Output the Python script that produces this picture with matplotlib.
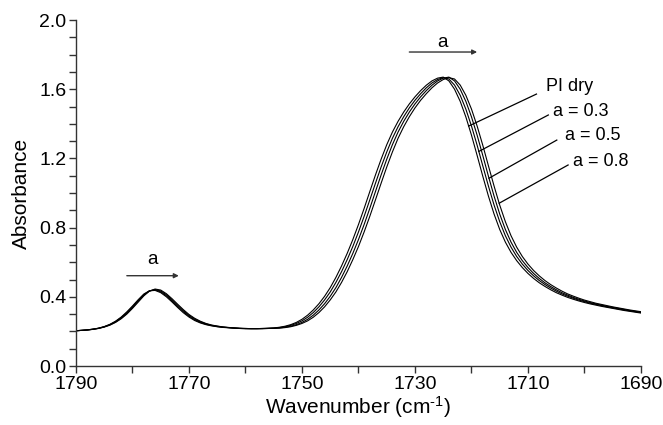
import numpy as np
import matplotlib
matplotlib.use("Agg")
import matplotlib.pyplot as plt
from matplotlib.ticker import MultipleLocator, FixedLocator

plt.rcParams['font.family'] = ['Liberation Sans', 'DejaVu Sans']
plt.rcParams['mathtext.fontset'] = 'custom'
plt.rcParams['mathtext.rm'] = 'Liberation Sans'
plt.rcParams['mathtext.it'] = 'Liberation Sans:italic'

# wavenumber grid, 1790 -> 1690 cm-1, 1 cm-1 step
wavenumber = np.arange(1790, 1689, -1)

absorb_dry = [
    0.204, 0.206, 0.209, 0.213, 0.219, 0.228, 0.241, 0.259, 0.283, 0.313,
    0.347, 0.383, 0.416, 0.435, 0.437, 0.424, 0.400, 0.370, 0.338, 0.308,
    0.283, 0.263, 0.249, 0.239, 0.232, 0.227, 0.223, 0.221, 0.219, 0.217,
    0.216, 0.216, 0.216,
    0.217, 0.218, 0.220, 0.224, 0.230, 0.239, 0.252, 0.270, 0.294, 0.324,
    0.360, 0.403, 0.453, 0.512, 0.578, 0.651, 0.731, 0.818, 0.911, 1.008,
    1.104, 1.195, 1.279, 1.352, 1.414, 1.468, 1.515, 1.556, 1.592, 1.623,
    1.648, 1.664, 1.670, 1.648, 1.600, 1.530, 1.440, 1.334, 1.217, 1.097,
    0.982, 0.878, 0.789, 0.716, 0.657, 0.609, 0.569, 0.535, 0.506, 0.481,
    0.460, 0.441, 0.424, 0.410, 0.397, 0.386, 0.376, 0.367, 0.359, 0.352,
    0.345, 0.339, 0.333, 0.327, 0.321, 0.316, 0.311, 0.306,
]

absorb_03 = [
    0.204, 0.206, 0.209, 0.213, 0.218, 0.227, 0.239, 0.257, 0.280, 0.309,
    0.342, 0.378, 0.412, 0.434, 0.440, 0.429, 0.406, 0.376, 0.344, 0.314,
    0.288, 0.267, 0.252, 0.241, 0.234, 0.228, 0.224, 0.222, 0.219, 0.217,
    0.216, 0.216, 0.216,
    0.217, 0.218, 0.219, 0.222, 0.227, 0.235, 0.246, 0.261, 0.282, 0.309,
    0.342, 0.382, 0.428, 0.483, 0.545, 0.615, 0.691, 0.775, 0.865, 0.960,
    1.056, 1.150, 1.237, 1.316, 1.383, 1.441, 1.492, 1.536, 1.574, 1.608,
    1.636, 1.656, 1.667, 1.659, 1.624, 1.565, 1.485, 1.387, 1.276, 1.157,
    1.040, 0.930, 0.834, 0.753, 0.687, 0.633, 0.589, 0.552, 0.521, 0.494,
    0.471, 0.451, 0.433, 0.417, 0.404, 0.392, 0.381, 0.372, 0.363, 0.356,
    0.349, 0.342, 0.336, 0.330, 0.324, 0.319, 0.314, 0.309,
]

absorb_05 = [
    0.204, 0.206, 0.208, 0.212, 0.218, 0.226, 0.238, 0.254, 0.276, 0.304,
    0.338, 0.374, 0.409, 0.434, 0.442, 0.434, 0.412, 0.383, 0.351, 0.320,
    0.293, 0.272, 0.256, 0.244, 0.235, 0.230, 0.225, 0.222, 0.220, 0.218,
    0.217, 0.216, 0.216,
    0.216, 0.217, 0.218, 0.220, 0.224, 0.230, 0.239, 0.252, 0.270, 0.294,
    0.324, 0.360, 0.403, 0.453, 0.512, 0.578, 0.651, 0.731, 0.818, 0.911,
    1.008, 1.104, 1.195, 1.279, 1.352, 1.414, 1.468, 1.515, 1.556, 1.592,
    1.623, 1.648, 1.664, 1.670, 1.648, 1.600, 1.530, 1.440, 1.334, 1.217,
    1.097, 0.982, 0.878, 0.789, 0.716, 0.657, 0.609, 0.569, 0.535, 0.506,
    0.481, 0.460, 0.441, 0.424, 0.410, 0.397, 0.386, 0.376, 0.367, 0.359,
    0.352, 0.345, 0.339, 0.333, 0.327, 0.321, 0.316, 0.311,
]

absorb_08 = [
    0.204, 0.206, 0.208, 0.212, 0.217, 0.225, 0.236, 0.252, 0.273, 0.300,
    0.333, 0.369, 0.405, 0.433, 0.445, 0.439, 0.418, 0.389, 0.357, 0.326,
    0.298, 0.276, 0.259, 0.246, 0.237, 0.231, 0.226, 0.223, 0.220, 0.218,
    0.217, 0.216, 0.216,
    0.216, 0.217, 0.218, 0.219, 0.222, 0.227, 0.235, 0.246, 0.261, 0.282,
    0.309, 0.342, 0.382, 0.428, 0.483, 0.545, 0.615, 0.691, 0.775, 0.865,
    0.960, 1.056, 1.150, 1.237, 1.316, 1.383, 1.441, 1.492, 1.536, 1.574,
    1.608, 1.636, 1.656, 1.667, 1.659, 1.624, 1.565, 1.485, 1.387, 1.276,
    1.157, 1.040, 0.930, 0.834, 0.753, 0.687, 0.633, 0.589, 0.552, 0.521,
    0.494, 0.471, 0.451, 0.433, 0.417, 0.404, 0.392, 0.381, 0.372, 0.363,
    0.356, 0.349, 0.342, 0.336, 0.330, 0.324, 0.319, 0.314,
]

series = [absorb_dry, absorb_03, absorb_05, absorb_08]
labels = ["PI dry", "a = 0.3", "a = 0.5", "a = 0.8"]
# where each leader line meets its curve, and where its label sits
leader_x = [1720.5, 1718.7, 1716.9, 1715.1]
leader_end = [(1708.5, 1.572), (1706.4, 1.451), (1704.9, 1.306), (1702.9, 1.162)]
label_pos = [(1706.8, 1.613), (1705.5, 1.470), (1703.4, 1.335), (1702.0, 1.185)]

x_major = [1790, 1770, 1750, 1730, 1710, 1690]
x_minor = [1780, 1760, 1740, 1720, 1700]

fig = plt.figure(figsize=(6.63, 4.25), dpi=100)
ax = fig.add_axes([0.1146, 0.1388, 0.8522, 0.8141])

for ys in series:
    ax.plot(wavenumber, ys, color="black", lw=0.8)

for ys, lx, (ex, ey), (tx, ty), lab in zip(series, leader_x, leader_end, label_pos, labels):
    ly = np.interp(lx, wavenumber[::-1], np.asarray(ys)[::-1])
    ax.plot([lx, ex], [ly, ey], color="black", lw=0.9)
    ax.text(tx, ty, lab, fontsize=13, ha="left", va="center")

# shift arrows
arrow_kw = dict(arrowstyle="-|>", color="#333333", lw=1.0, mutation_scale=7,
                shrinkA=0, shrinkB=0)
ax.annotate("", xy=(1719.0, 1.815), xytext=(1731.0, 1.815), arrowprops=arrow_kw)
ax.text(1725.2, 1.87, "a", fontsize=13.5, ha="center", va="center")
ax.annotate("", xy=(1771.8, 0.522), xytext=(1781.0, 0.522), arrowprops=arrow_kw)
ax.text(1776.5, 0.615, "a", fontsize=13.5, ha="center", va="center")

ax.set_xlim(1790, 1690)
ax.set_ylim(0, 2.0)
ax.xaxis.set_major_locator(FixedLocator(x_major))
ax.xaxis.set_minor_locator(FixedLocator(x_minor))
ax.yaxis.set_major_locator(MultipleLocator(0.4))
ax.yaxis.set_minor_locator(MultipleLocator(0.1))
ax.yaxis.set_major_formatter(plt.FuncFormatter(lambda v, p: f"{v:.1f}"))
ax.tick_params(which="both", direction="out", length=5, width=1, color="#333333",
               labelsize=14, pad=2)

for side in ["top", "right"]:
    ax.spines[side].set_visible(False)
for side in ["left", "bottom"]:
    ax.spines[side].set_color("#333333")
    ax.spines[side].set_linewidth(1.0)

ax.set_xlabel(r"Wavenumber (cm$^{\text{-}1}$)", fontsize=15, labelpad=1)
ax.set_ylabel("Absorbance", fontsize=15, labelpad=6)

fig.savefig("out.png", dpi=100)
